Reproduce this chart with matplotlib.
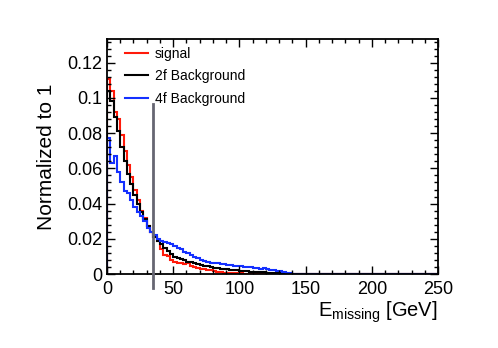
#!/usr/bin/env python3

import numpy as np
import matplotlib

matplotlib.use("Agg")
import matplotlib.pyplot as plt

plt.rcParams["font.family"] = ["Liberation Sans", "DejaVu Sans"]
plt.rcParams["mathtext.fontset"] = "custom"
plt.rcParams["mathtext.rm"] = "Liberation Sans"

# histogram binning: 100 bins over 0-250 GeV
n_bins = 100
e_min, e_max = 0.0, 250.0

signal = [
    0.111, 0.104, 0.092, 0.088, 0.079, 0.070, 0.062, 0.055, 0.048, 0.042,
    0.036, 0.032, 0.027, 0.024, 0.021, 0.019, 0.014, 0.011, 0.010, 0.008,
    0.007, 0.0065, 0.006, 0.0055, 0.006, 0.0045, 0.004, 0.0035, 0.003, 0.003,
    0.0025, 0.002, 0.0015, 0.0012, 0.001, 0.0008, 0.0007, 0.0005, 0.0004, 0.0003,
    0.0003, 0.0002, 0.0001, 0.0001,
]
bkg_2f = [
    0.104, 0.098, 0.089, 0.081, 0.072, 0.064, 0.057, 0.051, 0.045, 0.040,
    0.035, 0.031, 0.027, 0.024, 0.021, 0.019, 0.017, 0.015, 0.013, 0.0115,
    0.0098, 0.0090, 0.0083, 0.0077, 0.0071, 0.0066, 0.0061, 0.0056, 0.0052, 0.0048,
    0.0044, 0.0040, 0.0037, 0.0034, 0.0031, 0.0028, 0.0026, 0.0024, 0.0022, 0.0020,
    0.0018, 0.0016, 0.0015, 0.0013, 0.0012, 0.0011, 0.0010, 0.0009, 0.0008, 0.0007,
    0.0006, 0.0005, 0.0004, 0.0003, 0.0002, 0.0001,
]
bkg_4f = [
    0.077, 0.063, 0.067, 0.058, 0.052, 0.047, 0.046, 0.042, 0.038, 0.035,
    0.033, 0.030, 0.026, 0.024, 0.022, 0.020, 0.019, 0.018, 0.0175, 0.017,
    0.016, 0.015, 0.014, 0.0125, 0.012, 0.011, 0.0095, 0.009, 0.008, 0.0075,
    0.007, 0.0065, 0.0062, 0.006, 0.0058, 0.0055, 0.005, 0.0052, 0.0048, 0.0045,
    0.0045, 0.004, 0.0042, 0.0038, 0.0035, 0.0033, 0.003, 0.0032, 0.0028, 0.0025,
    0.0022, 0.0018, 0.0015, 0.0012, 0.0008, 0.0004,
]

cut_value = 35.0
cut_line_low, cut_line_high = -0.008, 0.0965


def pad(values):
    return np.array(values + [0.0] * (n_bins - len(values)))


def main():
    edges = np.linspace(e_min, e_max, n_bins + 1)

    fig = plt.figure(figsize=(4.98, 3.48), dpi=100)
    ax = fig.add_axes([0.2149, 0.2126, 0.6646, 0.6754])

    ax.stairs(pad(signal), edges, color="#ff1a0a", lw=1.5, label="signal")
    ax.stairs(pad(bkg_2f), edges, color="black", lw=1.5, label="2f Background")
    ax.stairs(pad(bkg_4f), edges, color="#1430ff", lw=1.5, label="4f Background")

    ax.plot([cut_value, cut_value], [cut_line_low, cut_line_high],
            color="#666672", lw=2.0, clip_on=False, zorder=5)

    ax.set_xlim(e_min, e_max)
    ax.set_ylim(0, 0.1335)
    ax.set_xticks(np.arange(0, 251, 50))
    ax.set_xticks(np.arange(0, 251, 10), minor=True)
    ax.set_yticks(np.arange(0, 0.121, 0.02))
    ax.set_yticks(np.arange(0, 0.133, 0.004), minor=True)
    ax.set_yticklabels(["0", "0.02", "0.04", "0.06", "0.08", "0.1", "0.12"])

    ax.tick_params(which="both", direction="in", top=True, right=True,
                   labelsize=13, width=1.0)
    ax.tick_params(which="major", length=6)
    ax.tick_params(which="minor", length=3)
    ax.tick_params(axis="x", pad=5)
    for spine in ax.spines.values():
        spine.set_linewidth(1.3)

    ax.set_ylabel("Normalized to 1", fontsize=15, labelpad=8)
    ax.set_xlabel(r"E$_{\mathrm{missing}}$ [GeV]", fontsize=14.5,
                  loc="right", labelpad=1)

    ax.legend(loc="upper left", bbox_to_anchor=(0.03, 1.0), frameon=False,
              fontsize=10, handlelength=1.7, handletextpad=0.45,
              labelspacing=0.6, borderaxespad=0.17)

    fig.savefig("out.png", dpi=100)


if __name__ == "__main__":
    main()
